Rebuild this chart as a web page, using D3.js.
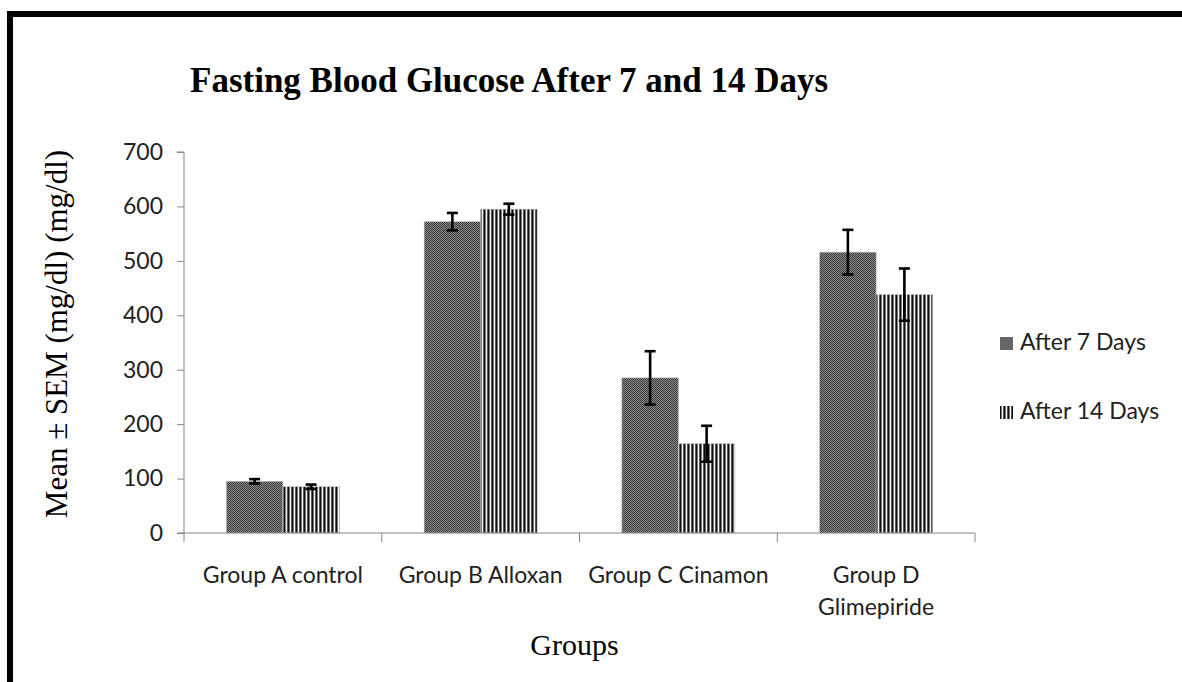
<!DOCTYPE html>
<html>
<head>
<meta charset="utf-8">
<script src="https://cdn.jsdelivr.net/npm/d3@7"></script>
<style>
  body { margin: 0; background: #fff; }
  .tick text { font-family: Lato, 'Open Sans', sans-serif; font-size: 23px; fill: #222; }
  .serif { font-family: 'Liberation Serif', 'Times New Roman', serif; fill: #000; }
</style>
</head>
<body>
<svg id="chart" width="1182" height="682"></svg>
<script>
// data
const groups = ['Group A control', 'Group B Alloxan', 'Group C Cinamon', 'Group D Glimepiride']
const series = ['After 7 Days', 'After 14 Days']
const day7 = [95, 572, 285, 516]
const day7Sem = [4, 16, 49, 41]
const day14 = [85, 595, 164, 438]
const day14Sem = [4, 10, 33, 48]
const yTicks = [0, 100, 200, 300, 400, 500, 600, 700]

const svg = d3.select('#chart')
const margin = { top: 152, bottom: 149, left: 184, right: 207 }
const W = 1182, H = 682

// frame (only top & left edges fall inside the picture)
svg.append('rect')
  .attr('x', 10).attr('y', 14)
  .attr('width', 1300).attr('height', 800)
  .attr('fill', 'none').attr('stroke', '#000').attr('stroke-width', 6)

const defs = svg.append('defs')
const p7 = defs.append('pattern').attr('id', 'pat7')
  .attr('patternUnits', 'userSpaceOnUse').attr('width', 2).attr('height', 2)
p7.append('rect').attr('width', 2).attr('height', 2).attr('fill', '#8c8c8c')
p7.append('rect').attr('width', 1).attr('height', 1).attr('fill', '#383838')
p7.append('rect').attr('x', 1).attr('y', 1).attr('width', 1).attr('height', 1).attr('fill', '#383838')

const p14 = defs.append('pattern').attr('id', 'pat14')
  .attr('patternUnits', 'userSpaceOnUse').attr('width', 4).attr('height', 4)
p14.append('rect').attr('width', 4).attr('height', 4).attr('fill', '#f4f4f4')
p14.append('rect').attr('x', 0).attr('width', 1).attr('height', 4).attr('fill', '#0d0d0d')
p14.append('rect').attr('x', 1).attr('width', 1).attr('height', 4).attr('fill', '#7a7a7a')
p14.append('rect').attr('x', 3).attr('width', 1).attr('height', 4).attr('fill', '#5a5a5a')

const fills = ['url(#pat7)', 'url(#pat14)']

const x0 = d3.scaleBand().domain(groups).range([margin.left, W - margin.right]).padding(0)
const x1 = d3.scaleBand().domain(series).range([0, x0.bandwidth()]).paddingInner(0).paddingOuter(0.75)
const y = d3.scaleLinear().domain([0, 700]).range([H - margin.bottom, margin.top])

const rows = []
groups.forEach((g, i) => {
  rows.push({ g, s: series[0], v: day7[i], e: day7Sem[i] })
  rows.push({ g, s: series[1], v: day14[i], e: day14Sem[i] })
})

// bars
svg.append('g').selectAll('rect')
  .data(rows)
  .enter()
  .append('rect')
  .attr('x', d => x0(d.g) + x1(d.s))
  .attr('y', d => y(d.v))
  .attr('width', x1.bandwidth())
  .attr('height', d => y(0) - y(d.v))
  .attr('fill', d => fills[series.indexOf(d.s)])
  .attr('stroke', '#bbb')
  .attr('stroke-width', 0.6)

// error bars
const eg = svg.append('g').attr('stroke', '#000').attr('stroke-width', 2.6)
const cx = d => x0(d.g) + x1(d.s) + x1.bandwidth() / 2
eg.selectAll('.stem').data(rows).enter().append('line')
  .attr('x1', cx).attr('x2', cx)
  .attr('y1', d => y(d.v + d.e)).attr('y2', d => y(d.v - d.e))
eg.selectAll('.cap-top').data(rows).enter().append('line')
  .attr('x1', d => cx(d) - 5.5).attr('x2', d => cx(d) + 5.5)
  .attr('y1', d => y(d.v + d.e)).attr('y2', d => y(d.v + d.e))
eg.selectAll('.cap-bot').data(rows).enter().append('line')
  .attr('x1', d => cx(d) - 5.5).attr('x2', d => cx(d) + 5.5)
  .attr('y1', d => y(d.v - d.e)).attr('y2', d => y(d.v - d.e))

// y axis
const yAxis = svg.append('g')
  .attr('transform', `translate(${margin.left},0)`)
  .call(d3.axisLeft(y).tickValues(yTicks).tickSize(7).tickPadding(14))
yAxis.selectAll('line, path').attr('stroke', '#868686')
yAxis.select('.domain').attr('d', `M0,${y(700)}V${y(0)}M-7,${y(700)}H0`)

// x axis: ticks at group boundaries
const xg = svg.append('g').attr('transform', `translate(0,${y(0)})`)
xg.append('line')
  .attr('x1', margin.left - 7).attr('x2', W - margin.right)
  .attr('stroke', '#868686')
const bounds = groups.map(g => x0(g)).concat([x0(groups[3]) + x0.bandwidth()])
xg.selectAll('.xt').data(bounds).enter().append('line')
  .attr('x1', d => d).attr('x2', d => d)
  .attr('y1', 0).attr('y2', 9)
  .attr('stroke', '#868686')

const labelLines = {
  'Group D Glimepiride': ['Group D', 'Glimepiride']
}
const xl = svg.append('g').attr('class', 'tick')
groups.forEach(g => {
  const lines = labelLines[g] || [g]
  const t = xl.append('text')
    .attr('x', x0(g) + x0.bandwidth() / 2)
    .attr('y', 583)
    .attr('text-anchor', 'middle')
  lines.forEach((l, i) => {
    t.append('tspan').attr('x', x0(g) + x0.bandwidth() / 2).attr('dy', i ? 32 : 0).text(l)
  })
})

// titles
svg.append('text').attr('class', 'serif')
  .attr('x', 190).attr('y', 92)
  .style('font-size', '35px').style('font-weight', 'bold')
  .text('Fasting Blood Glucose After 7 and 14 Days')

svg.append('text').attr('class', 'serif')
  .attr('x', (margin.left + W - margin.right) / 2 - 5).attr('y', 655)
  .attr('text-anchor', 'middle')
  .style('font-size', '30px')
  .text('Groups')

svg.append('text').attr('class', 'serif')
  .attr('transform', 'translate(67,334) rotate(-90)')
  .attr('text-anchor', 'middle')
  .style('font-size', '31px')
  .text('Mean ± SEM (mg/dl) (mg/dl)')

// legend
const lg = svg.append('g').attr('class', 'tick')
series.forEach((s, i) => {
  const ly = 350 + i * 69
  lg.append('rect')
    .attr('x', 1000).attr('y', ly - 13)
    .attr('width', 13).attr('height', 13)
    .attr('fill', i === 0 ? '#666' : fills[1])
  lg.append('text').attr('x', 1020).attr('y', ly).text(s)
})
</script>
</body>
</html>
